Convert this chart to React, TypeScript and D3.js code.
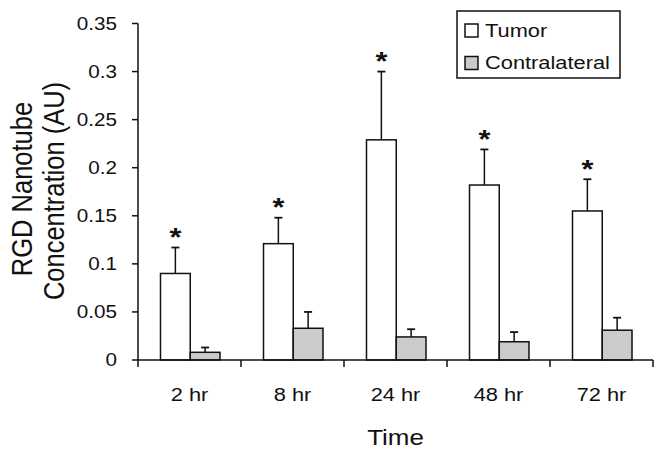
import React from "react";
import * as d3 from "d3";

const categories = ["2 hr", "8 hr", "24 hr", "48 hr", "72 hr"];
const seriesNames = ["Tumor", "Contralateral"];
const tumorValues = [0.09, 0.121, 0.229, 0.182, 0.155];
const tumorErrors = [0.027, 0.027, 0.071, 0.037, 0.033];
const contraValues = [0.008, 0.033, 0.024, 0.019, 0.031];
const contraErrors = [0.005, 0.017, 0.008, 0.010, 0.013];
const significant = [true, true, true, true, true];
const yTicks = [0, 0.05, 0.1, 0.15, 0.2, 0.25, 0.3, 0.35];

const W = 664;
const H = 458;
const SX = 1.18;
const FONT = "'Liberation Sans', Arial, sans-serif";
const INK = "#111";
const fills = ["#ffffff", "#cbcbcb"];

export default function App() {
  const x0 = 138;
  const x1 = 653;
  const yBase = 360;
  const yTop = 23.5;

  const x = d3.scaleBand<string>().domain(categories).range([x0, x1]).paddingInner(0).paddingOuter(0);
  const inner = d3.scaleBand<string>().domain(seriesNames).range([22.5, 82]).padding(0);
  const y = d3.scaleLinear().domain([0, 0.35]).range([yBase, yTop]);

  const series = [
    { name: seriesNames[0], values: tumorValues, errors: tumorErrors },
    { name: seriesNames[1], values: contraValues, errors: contraErrors },
  ];

  const boundaries = categories.map((c) => x(c) as number).concat([x1]);

  const txt = (tx: number, ty: number, extra = "") => `translate(${tx},${ty}) scale(${SX},1)${extra}`;

  return (
    <svg width={W} height={H} style={{ position: "absolute", left: 0, top: 0, background: "#fff" }}>
      <rect x={0} y={0} width={W} height={H} fill="#fff" />
      {/* bars */}
      {series.map((s, si) =>
        categories.map((c, ci) => {
          const bx = (x(c) as number) + (inner(s.name) as number);
          const bw = inner.bandwidth();
          const top = y(s.values[ci]);
          const errTop = y(s.values[ci] + s.errors[ci]);
          const cx = bx + bw / 2;
          return (
            <g key={`${si}-${ci}`}>
              <line x1={cx} x2={cx} y1={top} y2={errTop} stroke={INK} strokeWidth={1.5} />
              <line x1={cx - 4} x2={cx + 4} y1={errTop} y2={errTop} stroke={INK} strokeWidth={1.8} />
              <rect x={bx} y={top} width={bw} height={yBase - top} fill={fills[si]} stroke={INK} strokeWidth={1.5} />
            </g>
          );
        })
      )}
      {/* stars */}
      {categories.map((c, ci) => {
        if (!significant[ci]) return null;
        const bx = (x(c) as number) + (inner(seriesNames[0]) as number) + inner.bandwidth() / 2;
        const errTop = y(tumorValues[ci] + tumorErrors[ci]);
        return (
          <text key={`s${ci}`} transform={txt(bx, errTop - 1.5)} textAnchor="middle" fontFamily={FONT} fontSize={26} fontWeight="bold" fill={INK}>
            *
          </text>
        );
      })}
      {/* y axis */}
      <line x1={x0} x2={x0} y1={yTop} y2={yBase} stroke={INK} strokeWidth={1.5} />
      {yTicks.map((t) => (
        <g key={`yt${t}`}>
          <line x1={x0 - 6} x2={x0} y1={y(t)} y2={y(t)} stroke={INK} strokeWidth={1.5} />
          <text transform={txt(117, y(t) + 6)} textAnchor="end" fontFamily={FONT} fontSize={17.5} fill={INK}>
            {String(t)}
          </text>
        </g>
      ))}
      {/* x axis */}
      <line x1={x0} x2={x1} y1={yBase} y2={yBase} stroke={INK} strokeWidth={1.5} />
      {boundaries.map((b, i) => (
        <line key={`xt${i}`} x1={b} x2={b} y1={yBase} y2={yBase + 7} stroke={INK} strokeWidth={1.5} />
      ))}
      {categories.map((c) => (
        <text key={`xl${c}`} transform={txt((x(c) as number) + x.bandwidth() / 2, 400.5)} textAnchor="middle" fontFamily={FONT} fontSize={18.5} fill={INK}>
          {c}
        </text>
      ))}
      {/* axis titles */}
      <text transform={txt((x0 + x1) / 2, 445)} textAnchor="middle" fontFamily={FONT} fontSize={22} fill={INK}>
        Time
      </text>
      <text transform={`translate(31.5,189) scale(${SX},1) rotate(-90)`} textAnchor="middle" fontFamily={FONT} fontSize={25.5} fill={INK}>
        RGD Nanotube
      </text>
      <text transform={`translate(64,191) scale(${SX},1) rotate(-90)`} textAnchor="middle" fontFamily={FONT} fontSize={25.5} fill={INK}>
        Concentration (AU)
      </text>
      {/* legend */}
      <rect x={457} y={11} width={163} height={67} fill="#fff" stroke={INK} strokeWidth={1.5} />
      {seriesNames.map((n, i) => (
        <g key={`lg${n}`}>
          <rect x={465} y={24 + i * 32.5} width={13} height={13} fill={fills[i]} stroke={INK} strokeWidth={1.5} />
          <text transform={txt(485, 36.5 + i * 32.5)} fontFamily={FONT} fontSize={18.5} fill={INK}>
            {n}
          </text>
        </g>
      ))}
    </svg>
  );
}
